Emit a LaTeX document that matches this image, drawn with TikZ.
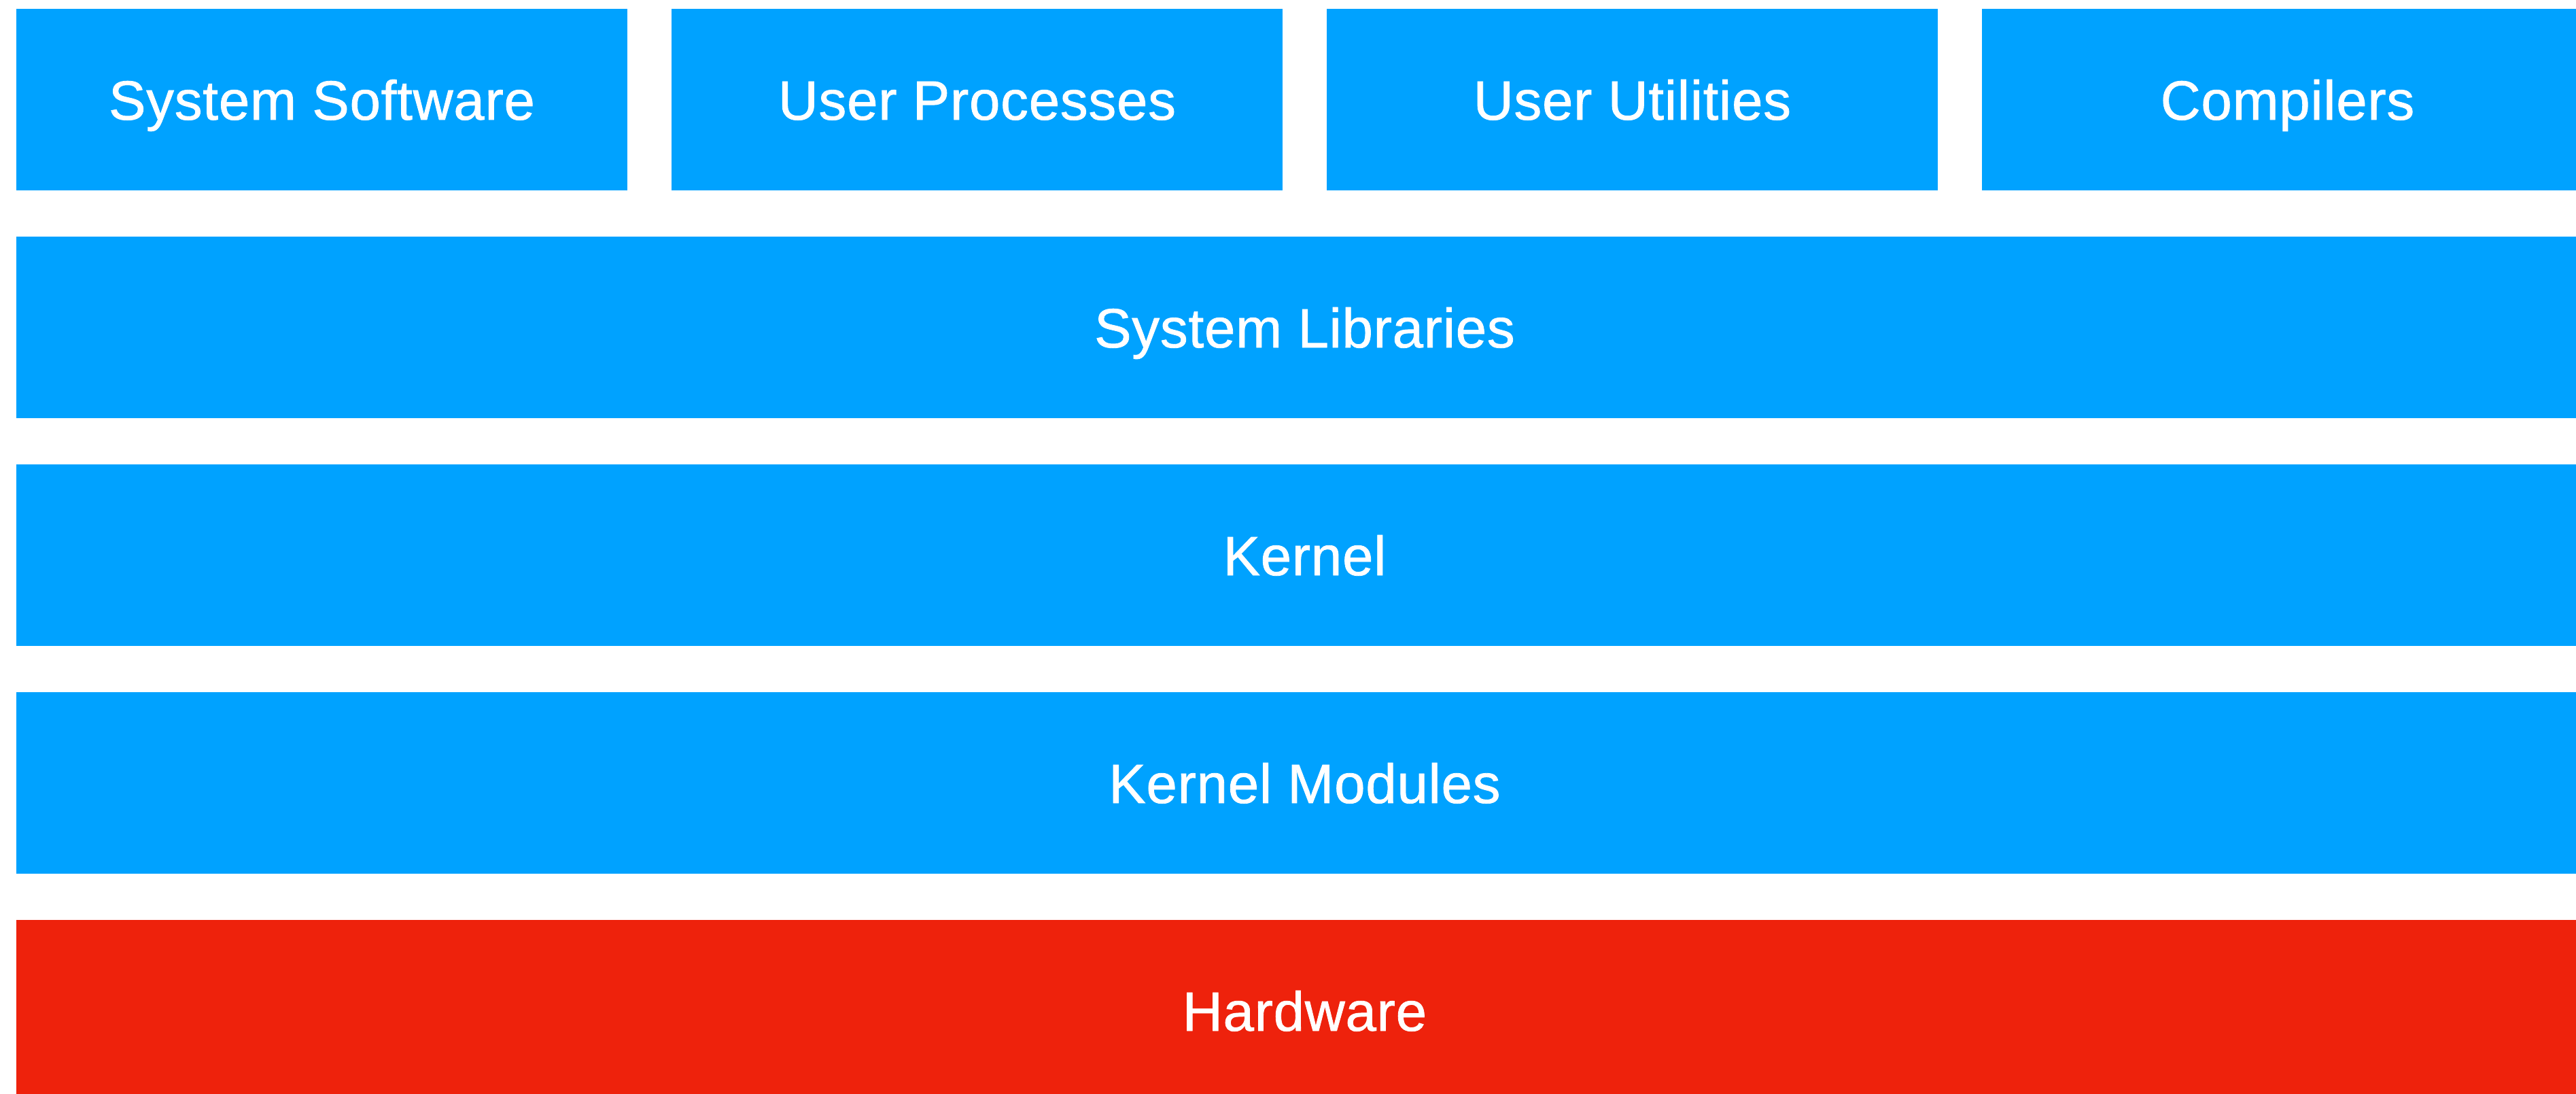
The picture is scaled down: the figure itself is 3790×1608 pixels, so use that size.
\documentclass[tikz,border=0pt]{standalone}
\usepackage{fontspec}
\setmainfont{Liberation Sans}
\newfontfamily\labelfont{Liberation Sans}[FakeBold=1.0,LetterSpace=1.0]
\usetikzlibrary{positioning}
\definecolor{layerblue}{HTML}{00A2FF}
\definecolor{hwred}{HTML}{EE220C}

\tikzset{
  layer/.style={fill=layerblue,text=white,inner sep=0pt,outer sep=0pt,anchor=north west,
    minimum height=26.7mm,text height=16.8pt,text depth=0pt,
    font=\labelfont\fontsize{23.2}{28}\selectfont},
  appbox/.style={layer,minimum width=89.9mm},
  widebox/.style={layer,minimum width=379.1mm},
}

\begin{document}
\begin{tikzpicture}[x=0.1mm,y=-0.1mm]
  \fill[white] (0,0) rectangle (3790,1608);
  \clip (0,0) rectangle (3790,1608);
  % top row: programs
  \node[appbox] (soft) at (24,13) {System Software};
  \node[appbox,right=6.5mm of soft] (procs) {User Processes};
  \node[appbox,right=6.5mm of procs] (utils) {User Utilities};
  \node[appbox,right=6.5mm of utils] (comp) {Compilers};
  % full-width layers
  \node[widebox,below=6.8mm of soft.south west,anchor=north west] (libs) {System Libraries};
  \node[widebox,below=6.8mm of libs.south west,anchor=north west] (kern) {Kernel};
  \node[widebox,below=6.8mm of kern.south west,anchor=north west] (mods) {Kernel Modules};
  \node[widebox,fill=hwred,below=6.8mm of mods.south west,anchor=north west] (hw) {Hardware};
\end{tikzpicture}
\end{document}
